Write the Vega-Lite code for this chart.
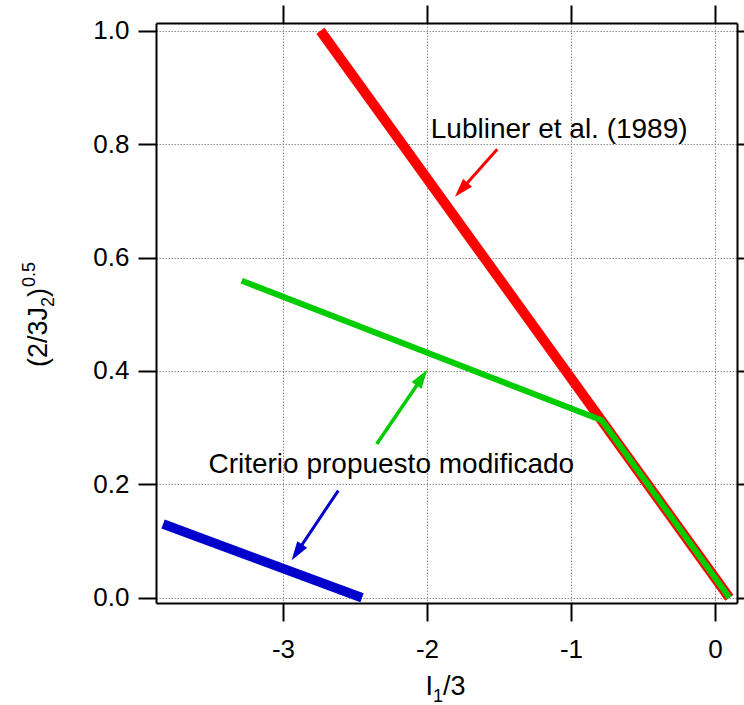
{
  "$schema": "https://vega.github.io/schema/vega-lite/v6.json",
  "width": 581,
  "height": 580,
  "autosize": {"type": "none"},
  "padding": {"left": 156, "top": 23, "right": 7, "bottom": 102},
  "background": "white",
  "config": {
    "view": {"stroke": null},
    "font": "Liberation Sans",
    "axis": {
      "domainColor": "black",
      "domainWidth": 2,
      "tickColor": "black",
      "tickWidth": 2,
      "tickSize": 18,
      "labelColor": "black",
      "labelFont": "Liberation Sans",
      "labelFontSize": 26,
      "gridColor": "#8c8c8c",
      "gridDash": [1.5, 1.5],
      "gridWidth": 1
    }
  },
  "datasets": {
    "curves": [
      {"series": "Lubliner", "i": 0, "x": -2.74, "y": 1.0},
      {"series": "Lubliner", "i": 1, "x": 0.1, "y": 0.0},
      {"series": "Modificado", "i": 0, "x": -3.287, "y": 0.559},
      {"series": "Modificado", "i": 1, "x": -0.787, "y": 0.313},
      {"series": "Modificado", "i": 2, "x": 0.1, "y": 0.0},
      {"series": "Propuesto", "i": 0, "x": -3.833, "y": 0.13},
      {"series": "Propuesto", "i": 1, "x": -2.451, "y": 0.0}
    ],
    "arrows": [
      {"series": "Lubliner", "x": -1.512, "y": 0.791, "xs": -1.759, "ys": 0.7205, "xt": -1.806, "yt": 0.707},
      {"series": "Modificado", "x": -2.349, "y": 0.271, "xs": -2.037, "ys": 0.387, "xt": -1.998, "yt": 0.402},
      {"series": "Propuesto", "x": -2.616, "y": 0.189, "xs": -2.901, "ys": 0.081, "xt": -2.94, "yt": 0.066}
    ],
    "labels": [
      {"label": "Lubliner et al. (1989)", "x": -1.082, "y": 0.81},
      {"label": "Criterio propuesto modificado", "x": -2.248, "y": 0.22}
    ],
    "titles": [
      {"name": "ytitle", "x": -4.639, "y": 0.4069},
      {"name": "xtitle", "x": -2.01, "y": -0.1716}
    ]
  },
  "layer": [
    {
      "data": {"name": "curves"},
      "transform": [{"filter": "datum.series === 'Lubliner'"}],
      "mark": {"type": "line", "color": "#ff0000", "strokeWidth": 10},
      "encoding": {
        "x": {"field": "x", "type": "quantitative",
          "scale": {"domain": [-3.882, 0.153], "nice": false, "zero": false},
          "axis": {"orient": "bottom", "title": null, "values": [-3, -2, -1, 0], "labelExpr": "datum.value + ''", "labelPadding": 15, "grid": true}},
        "y": {"field": "y", "type": "quantitative",
          "scale": {"domain": [-0.0093, 1.0136], "nice": false, "zero": false},
          "axis": {"orient": "left", "title": null, "values": [0, 0.2, 0.4, 0.6, 0.8, 1.0], "format": ".1f", "labelPadding": 9, "grid": true}},
        "order": {"field": "i"}
      }
    },
    {
      "data": {"name": "curves"},
      "transform": [{"filter": "datum.series === 'Modificado'"}],
      "mark": {"type": "line", "color": "#00cc00", "strokeWidth": 6},
      "encoding": {
        "x": {"field": "x", "type": "quantitative", "axis": null},
        "y": {"field": "y", "type": "quantitative", "axis": null},
        "order": {"field": "i"}
      }
    },
    {
      "data": {"name": "curves"},
      "transform": [{"filter": "datum.series === 'Propuesto'"}],
      "mark": {"type": "line", "color": "#0000cc", "strokeWidth": 9.5},
      "encoding": {
        "x": {"field": "x", "type": "quantitative",
          "axis": {"orient": "top", "title": null, "values": [-3, -2, -1, 0], "labels": false, "grid": false}},
        "y": {"field": "y", "type": "quantitative",
          "axis": {"orient": "right", "title": null, "values": [0, 0.2, 0.4, 0.6, 0.8, 1.0], "labels": false, "grid": false}},
        "order": {"field": "i"}
      }
    },
    {
      "data": {"name": "arrows"},
      "transform": [{"filter": "datum.series === 'Lubliner'"}],
      "layer": [
        {
          "mark": {"type": "rule", "color": "#ff0000", "strokeWidth": 3},
          "encoding": {
            "x": {"field": "x", "type": "quantitative", "axis": null},
            "y": {"field": "y", "type": "quantitative", "axis": null},
            "x2": {"field": "xs"},
            "y2": {"field": "ys"}
          }
        },
        {
          "mark": {"type": "point", "shape": "M0,0L0.63,2L-0.63,2Z", "filled": true, "color": "#ff0000", "opacity": 1, "strokeWidth": 0, "size": 361, "angle": 221.8},
          "encoding": {
            "x": {"field": "xt", "type": "quantitative", "axis": null},
            "y": {"field": "yt", "type": "quantitative", "axis": null}
          }
        }
      ]
    },
    {
      "data": {"name": "arrows"},
      "transform": [{"filter": "datum.series === 'Modificado'"}],
      "layer": [
        {
          "mark": {"type": "rule", "color": "#00cc00", "strokeWidth": 3.5},
          "encoding": {
            "x": {"field": "x", "type": "quantitative", "axis": null},
            "y": {"field": "y", "type": "quantitative", "axis": null},
            "x2": {"field": "xs"},
            "y2": {"field": "ys"}
          }
        },
        {
          "mark": {"type": "point", "shape": "M0,0L0.63,2L-0.63,2Z", "filled": true, "color": "#00cc00", "opacity": 1, "strokeWidth": 0, "size": 361, "angle": 34.4},
          "encoding": {
            "x": {"field": "xt", "type": "quantitative", "axis": null},
            "y": {"field": "yt", "type": "quantitative", "axis": null}
          }
        }
      ]
    },
    {
      "data": {"name": "arrows"},
      "transform": [{"filter": "datum.series === 'Propuesto'"}],
      "layer": [
        {
          "mark": {"type": "rule", "color": "#0000cc", "strokeWidth": 3},
          "encoding": {
            "x": {"field": "x", "type": "quantitative", "axis": null},
            "y": {"field": "y", "type": "quantitative", "axis": null},
            "x2": {"field": "xs"},
            "y2": {"field": "ys"}
          }
        },
        {
          "mark": {"type": "point", "shape": "M0,0L0.63,2L-0.63,2Z", "filled": true, "color": "#0000cc", "opacity": 1, "strokeWidth": 0, "size": 361, "angle": 213.9},
          "encoding": {
            "x": {"field": "xt", "type": "quantitative", "axis": null},
            "y": {"field": "yt", "type": "quantitative", "axis": null}
          }
        }
      ]
    },
    {
      "data": {"name": "labels"},
      "mark": {"type": "text", "font": "Liberation Sans", "fontSize": 28, "color": "black", "align": "center", "baseline": "alphabetic"},
      "encoding": {
        "x": {"field": "x", "type": "quantitative", "axis": null},
        "y": {"field": "y", "type": "quantitative", "axis": null},
        "text": {"field": "label"}
      }
    },
    {
      "data": {"name": "titles"},
      "transform": [{"filter": "datum.name === 'ytitle'"}],
      "encoding": {
        "x": {"field": "x", "type": "quantitative", "axis": null},
        "y": {"field": "y", "type": "quantitative", "axis": null}
      },
      "layer": [
        {"mark": {"type": "text", "text": "(2/3J", "font": "Liberation Sans", "fontSize": 27, "color": "black", "align": "left", "baseline": "alphabetic", "angle": 270}},
        {"mark": {"type": "text", "text": "2", "font": "Liberation Sans", "fontSize": 18, "color": "black", "align": "left", "baseline": "alphabetic", "angle": 270, "dx": 60, "dy": 7}},
        {"mark": {"type": "text", "text": ")", "font": "Liberation Sans", "fontSize": 27, "color": "black", "align": "left", "baseline": "alphabetic", "angle": 270, "dx": 70}},
        {"mark": {"type": "text", "text": "0.5", "font": "Liberation Sans", "fontSize": 18, "color": "black", "align": "left", "baseline": "alphabetic", "angle": 270, "dx": 80, "dy": -12}}
      ]
    },
    {
      "data": {"name": "titles"},
      "transform": [{"filter": "datum.name === 'xtitle'"}],
      "encoding": {
        "x": {"field": "x", "type": "quantitative", "axis": null},
        "y": {"field": "y", "type": "quantitative", "axis": null}
      },
      "layer": [
        {"mark": {"type": "text", "text": "I", "font": "Liberation Sans", "fontSize": 27, "color": "black", "align": "left", "baseline": "alphabetic"}},
        {"mark": {"type": "text", "text": "1", "font": "Liberation Sans", "fontSize": 18, "color": "black", "align": "left", "baseline": "alphabetic", "dx": 7.5, "dy": 7}},
        {"mark": {"type": "text", "text": "/3", "font": "Liberation Sans", "fontSize": 27, "color": "black", "align": "left", "baseline": "alphabetic", "dx": 17.5}}
      ]
    }
  ],
  "resolve": {"axis": {"x": "independent", "y": "independent"}}
}
